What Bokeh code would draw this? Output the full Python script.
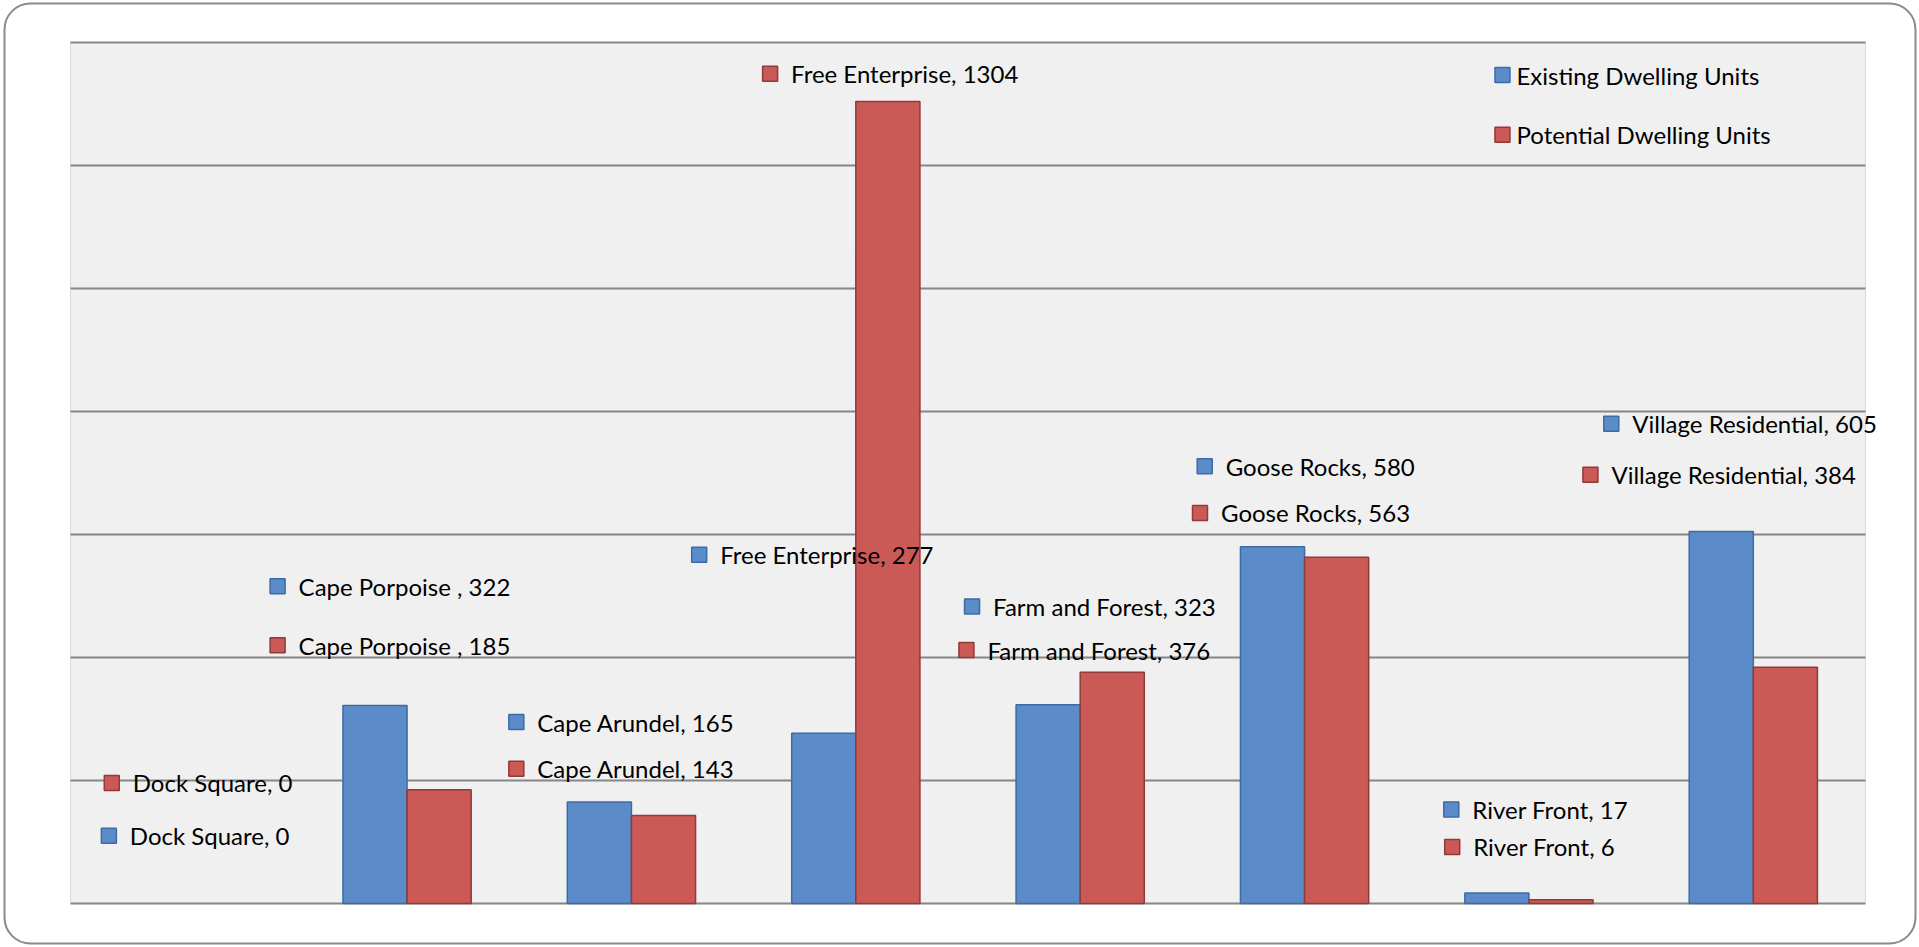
import numpy as np
from bokeh.plotting import figure
from bokeh.models import Range1d, BoxAnnotation, ColumnDataSource
from bokeh.core.properties import value
from bokeh.embed import file_html
from bokeh.resources import INLINE

# ---------------- data ----------------
categories = ["Dock Square", "Cape Porpoise ", "Cape Arundel", "Free Enterprise",
              "Farm and Forest", "Goose Rocks", "River Front", "Village Residential"]
existing = [0, 322, 165, 277, 323, 580, 17, 605]
potential = [0, 185, 143, 1304, 376, 563, 6, 384]
series_names = ["Existing Dwelling Units", "Potential Dwelling Units"]
y_ticks = [0, 200, 400, 600, 800, 1000, 1200, 1400]

# data-label anchor positions (category units, value units) as placed in the original
existing_label_x = [0.171, 0.923, 1.987, 2.802, 4.018, 5.055, 6.154, 6.867]
existing_label_y = [110, 516, 295, 567, 483, 711, 153, 780]
potential_label_x = [0.184, 0.923, 1.987, 3.118, 3.993, 5.034, 6.158, 6.774]
potential_label_y = [196, 420, 219, 1349, 412, 635, 92, 697]
legend_x = [6.382, 6.382]
legend_y = [1347, 1250]

# ---------------- layout (pixels) ----------------
W, H = 1919, 947
PLOT_L, PLOT_R, PLOT_T, PLOT_B = 70, 1865, 42, 903
n = len(categories)
ymax = y_ticks[-1]
px_x = (PLOT_R - PLOT_L) / n
px_y = (PLOT_B - PLOT_T) / ymax

# ---------------- styling ----------------
BLUE, BLUE_EDGE = "#5B8BC8", "#3D6BA5"
RED, RED_EDGE = "#CB5956", "#8E3B39"
FONT = value("Lato")
FSIZE = "24px"

p = figure(width=W, height=H,
           x_range=Range1d(-PLOT_L / px_x, n + (W - PLOT_R) / px_x),
           y_range=Range1d(-(H - PLOT_B) / px_y, ymax + PLOT_T / px_y),
           output_backend="svg", toolbar_location=None,
           x_axis_location=None, y_axis_location=None,
           min_border=0, min_border_left=0, min_border_right=0,
           min_border_top=0, min_border_bottom=0)
p.title.visible = False
p.background_fill_color = "white"
p.border_fill_color = "white"
p.outline_line_color = None
p.xgrid.visible = False
p.ygrid.visible = False

# plot area (grey) with thin light side borders
p.add_layout(BoxAnnotation(left=0, right=n, bottom=0, top=ymax,
                           fill_color="#F0F0F0", fill_alpha=1,
                           line_color="#D9D9D9", line_alpha=1, line_width=1,
                           level="image"))

# horizontal gridlines restricted to the plot area
p.segment(x0=[0] * len(y_ticks), x1=[n] * len(y_ticks), y0=y_ticks, y1=y_ticks,
          line_color="#868686", line_width=2)

# ---------------- bars ----------------
centers = np.arange(n) + 0.5
bw = 1 / 3.5
src = ColumnDataSource(dict(xb=centers - bw / 2, xr=centers + bw / 2,
                            existing=existing, potential=potential,
                            la_e=[0 if v == 0 else 1 for v in existing],
                            la_p=[0 if v == 0 else 1 for v in potential]))
p.vbar(x="xb", top="existing", bottom=0, width=bw, source=src,
       fill_color=BLUE, line_color=BLUE_EDGE, line_width=1.5, line_alpha="la_e")
p.vbar(x="xr", top="potential", bottom=0, width=bw, source=src,
       fill_color=RED, line_color=RED_EDGE, line_width=1.5, line_alpha="la_p")

# ---------------- data labels ----------------
ex_text = [f"{c}, {v}" for c, v in zip(categories, existing)]
po_text = [f"{c}, {v}" for c, v in zip(categories, potential)]
p.scatter(existing_label_x, existing_label_y, marker="square", size=15,
          fill_color=BLUE, line_color=BLUE_EDGE, line_width=1.5)
p.scatter(potential_label_x, potential_label_y, marker="square", size=15,
          fill_color=RED, line_color=RED_EDGE, line_width=1.5)
p.text(existing_label_x, existing_label_y, text=ex_text, x_offset=21,
       text_baseline="middle", text_align="left", text_font=FONT,
       text_font_size=FSIZE, text_color="black")
p.text(potential_label_x, potential_label_y, text=po_text, x_offset=21,
       text_baseline="middle", text_align="left", text_font=FONT,
       text_font_size=FSIZE, text_color="black")

# ---------------- legend ----------------
p.scatter(legend_x, legend_y, marker="square", size=15,
          fill_color=[BLUE, RED], line_color=[BLUE_EDGE, RED_EDGE], line_width=1.5)
p.text(legend_x, legend_y, text=series_names, x_offset=14,
       text_baseline="middle", text_align="left", text_font=FONT,
       text_font_size=FSIZE, text_color="black")

# ---------------- outer rounded border ----------------
p.add_layout(BoxAnnotation(left=4, right=W - 4, top=4, bottom=H - 3,
                           left_units="screen", right_units="screen",
                           top_units="screen", bottom_units="screen",
                           fill_color=None, fill_alpha=0,
                           line_color="#8A8A8A", line_alpha=1, line_width=2,
                           border_radius=26, level="overlay"))

open("out.html", "w").write(file_html(p, INLINE))
